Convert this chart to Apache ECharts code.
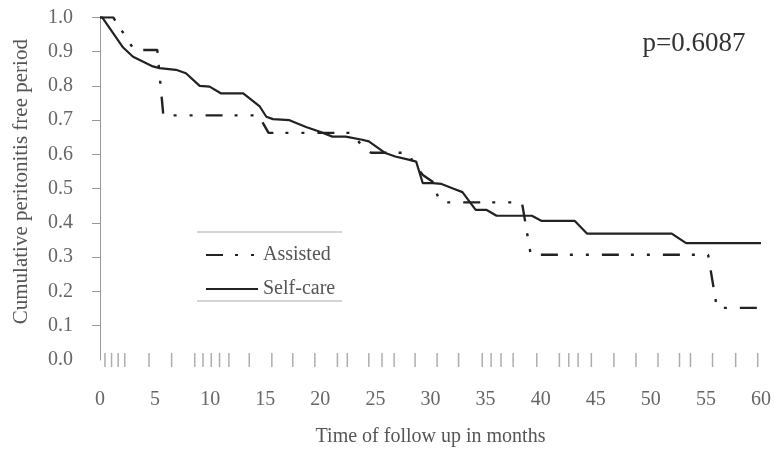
<!DOCTYPE html>
<html>
<head>
<meta charset="utf-8">
<script src="https://cdn.jsdelivr.net/npm/echarts@6/dist/echarts.min.js"></script>
<style>
html,body{margin:0;padding:0;background:#fff;}
#chart{width:774px;height:452px;}
</style>
</head>
<body>
<div id="chart"></div>
<script>
// Self-care curve (time in months, cumulative peritonitis-free proportion)
var selfCareTime = [0, 0.2, 2.1, 3.0, 4.8, 5.4, 6.9, 7.8, 9.05, 9.95, 11.0, 13.0, 14.5, 15.1, 15.7, 17.2, 18.7, 19.9, 21.1, 22.3, 23.8, 24.4, 25.9, 26.8, 28.1, 28.7, 29.3, 30.2, 31.0, 32.1, 32.9, 34.1, 35.1, 36.0, 39.2, 40.1, 43.1, 44.2, 51.9, 53.2, 60];
var selfCareValue = [1.0, 1.0, 0.912, 0.885, 0.857, 0.852, 0.847, 0.837, 0.80, 0.798, 0.778, 0.778, 0.74, 0.71, 0.703, 0.70, 0.68, 0.667, 0.652, 0.652, 0.643, 0.638, 0.604, 0.594, 0.584, 0.579, 0.516, 0.516, 0.514, 0.50, 0.49, 0.438, 0.438, 0.421, 0.421, 0.406, 0.406, 0.369, 0.369, 0.341, 0.341];

// Assisted curve
var assistedTime = [0, 1.2, 3.1, 5.2, 5.75, 14.4, 15.3, 22.9, 23.7, 24.6, 28.0, 28.4, 29.3, 30.2, 30.8, 31.0, 38.3, 39.1, 55.2, 56.0, 60];
var assistedValue = [1.0, 1.0, 0.905, 0.905, 0.714, 0.714, 0.663, 0.663, 0.628, 0.605, 0.605, 0.578, 0.54, 0.52, 0.465, 0.46, 0.46, 0.307, 0.307, 0.152, 0.152];

// Censoring / event tick marks along the time axis
var rugTimes = [0.45, 1.05, 1.65, 2.25, 4.45, 6.5, 8.6, 9.35, 10.1, 10.85, 11.7, 13.55, 15.6, 17.5, 19.5, 21.55, 22.45, 24.4, 25.6, 26.7, 28.6, 30.6, 32.55, 34.7, 35.5, 36.4, 37.5, 39.65, 41.7, 42.55, 43.4, 44.6, 46.65, 48.65, 50.65, 52.6, 53.6, 55.6, 57.7, 59.7];

var yTickValues = [0.1, 0.2, 0.3, 0.4, 0.5, 0.6, 0.7, 0.8, 0.9, 1.0];
var seriesNames = ['Assisted', 'Self-care'];
var xAxisTitle = 'Time of follow up in months';
var yAxisTitle = 'Cumulative peritonitis free period';
var pValueText = 'p=0.6087';

function pairs(xs, ys) { return xs.map(function (x, i) { return [x, ys[i]]; }); }

var FONT = '"Liberation Serif", "DejaVu Serif", serif';
var chart = echarts.init(document.getElementById('chart'), null, {renderer: 'canvas'});

chart.setOption({
  animation: false,
  backgroundColor: '#fff',
  grid: {left: 100, right: 11, top: 17.4, bottom: 91.6, containLabel: false},
  legend: {
    orient: 'vertical',
    left: 200,
    top: 240,
    itemWidth: 52,
    itemHeight: 14,
    itemGap: 14,
    data: seriesNames,
    itemStyle: {opacity: 0},
    textStyle: {fontFamily: FONT, fontSize: 20, color: '#555'}
  },
  xAxis: {
    type: 'value',
    min: 0,
    max: 60,
    interval: 5,
    name: xAxisTitle,
    nameLocation: 'middle',
    nameGap: 67,
    nameTextStyle: {fontFamily: FONT, fontSize: 20, color: '#555'},
    axisLine: {show: false},
    axisTick: {show: false},
    splitLine: {show: false},
    axisLabel: {fontFamily: FONT, fontSize: 20, color: '#666', margin: 30}
  },
  yAxis: [{
    type: 'value',
    min: 0,
    max: 1,
    interval: 0.1,
    offset: 4,
    name: yAxisTitle,
    nameLocation: 'middle',
    nameGap: 64,
    nameTextStyle: {fontFamily: FONT, fontSize: 21, color: '#555', padding: [0, 0, 0, 14]},
    axisLine: {show: true, lineStyle: {color: '#999', width: 1}},
    axisTick: {show: true, inside: false, length: 8, customValues: yTickValues, lineStyle: {color: '#999', width: 1}},
    splitLine: {show: false},
    axisLabel: {fontFamily: FONT, fontSize: 20, color: '#666', margin: 23,
      formatter: function (v) { return v.toFixed(1); }}
  }, {
    type: 'value',
    min: 0,
    max: 1,
    interval: 0.1,
    position: 'left',
    offset: 4,
    axisLine: {show: false},
    axisTick: {show: true, inside: true, length: 5, customValues: yTickValues, lineStyle: {color: '#999', width: 1}},
    axisLabel: {show: false},
    splitLine: {show: false}
  }],
  graphic: [
    {type: 'line', shape: {x1: 197, y1: 232, x2: 342, y2: 232}, style: {stroke: '#aaa', lineWidth: 1}},
    {type: 'line', shape: {x1: 197, y1: 301, x2: 342, y2: 301}, style: {stroke: '#aaa', lineWidth: 1}},
    {type: 'text', x: 694, y: 44, style: {text: pValueText, font: '27px ' + FONT, fill: '#333', textAlign: 'center', textVerticalAlign: 'middle'}}
  ],
  series: [
    {
      name: seriesNames[0],
      type: 'line',
      symbol: 'none',
      data: pairs(assistedTime, assistedValue),
      lineStyle: {color: '#222', width: 2.4, type: [17, 12, 3, 13, 3, 13]},
      itemStyle: {color: '#222'},
      z: 3
    },
    {
      name: seriesNames[1],
      type: 'line',
      symbol: 'none',
      data: pairs(selfCareTime, selfCareValue),
      lineStyle: {color: '#222', width: 2.2},
      itemStyle: {color: '#222'},
      z: 4
    },
    {
      name: 'censored',
      type: 'scatter',
      symbol: 'rect',
      symbolSize: [1.5, 14],
      data: rugTimes.map(function (t) { return [t, 0]; }),
      itemStyle: {color: '#999'},
      silent: true,
      z: 2
    }
  ]
});
</script>
</body>
</html>
